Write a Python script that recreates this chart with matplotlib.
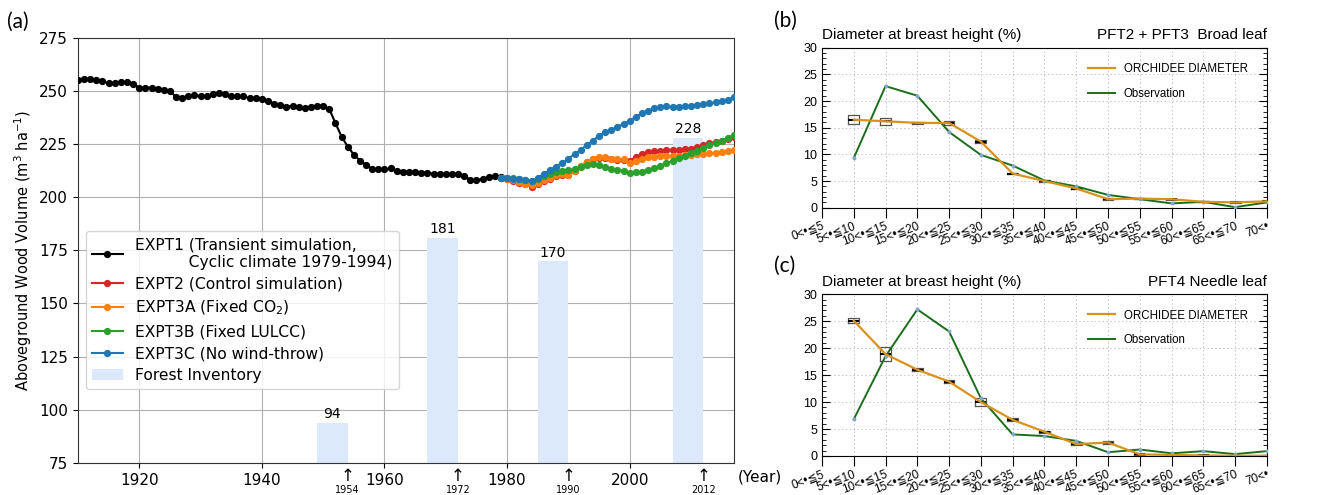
import numpy as np
import matplotlib
matplotlib.use('Agg')
import matplotlib.pyplot as plt
from matplotlib.lines import Line2D
from matplotlib.ticker import MultipleLocator
from matplotlib.transforms import ScaledTranslation

# ---- (a) aboveground wood volume ----
years_expt1 = list(range(1910, 1980))
expt1 = [255.0, 255.5, 255.5, 255.0, 254.5, 253.5, 253.5, 254.0, 254.0, 253.0,
         251.5, 251.5, 251.5, 251.0, 250.5, 250.0, 247.0, 246.5, 247.5, 248.0,
         247.5, 247.5, 248.5, 249.0, 248.5, 247.5, 247.5, 247.5, 246.5, 246.5,
         246.0, 245.0, 244.0, 243.5, 242.5, 243.0, 242.5, 242.0, 242.5, 243.0,
         243.0, 241.5, 234.8, 228.5, 223.8, 220.0, 217.2, 215.2, 213.3, 213.0,
         213.0, 213.5, 212.5, 212.0, 212.0, 212.0, 211.5, 211.5, 211.0, 211.0,
         211.0, 211.0, 211.0, 210.0, 208.0, 208.0, 208.5, 209.5, 210.0, 209.3]
years_sim = list(range(1979, 2018))
expt2 = [209.2, 208.4, 207.8, 206.8, 206.0, 205.0, 206.3, 207.7, 208.7, 209.9,
         210.6, 210.3, 212.2, 214.5, 216.4, 217.7, 218.5, 218.5, 217.8, 217.6,
         217.6, 217.0, 219.0, 220.3, 221.1, 221.6, 221.9, 222.2, 222.2, 222.2,
         222.7, 222.8, 223.7, 224.5, 225.5, 225.8, 226.6, 227.3, 228.4]
expt3a = [209.2, 208.6, 208.1, 207.0, 206.3, 205.5, 206.7, 208.1, 209.0, 210.2,
          210.9, 210.5, 212.5, 214.8, 216.7, 218.0, 218.8, 218.8, 218.0, 217.7,
          217.7, 215.9, 217.2, 218.0, 218.8, 219.0, 219.5, 219.5, 219.5, 219.5,
          219.6, 219.8, 220.3, 220.3, 220.6, 220.8, 221.1, 221.6, 222.2]
expt3b = [209.2, 209.0, 209.2, 208.7, 208.2, 207.8, 208.5, 209.8, 210.9, 211.7,
          212.5, 212.8, 213.3, 214.4, 215.3, 215.6, 215.3, 214.4, 213.3, 212.8,
          212.5, 211.3, 212.0, 212.0, 212.8, 213.7, 214.8, 215.9, 217.2, 218.3,
          219.5, 220.6, 221.9, 223.1, 224.5, 225.5, 226.6, 227.7, 229.4]
expt3c = [209.2, 208.9, 208.6, 208.3, 208.0, 207.6, 209.1, 211.0, 212.8, 214.4,
          216.2, 218.0, 220.3, 222.2, 224.5, 226.6, 228.9, 230.5, 231.6, 233.1,
          234.4, 235.9, 237.8, 239.4, 240.6, 241.7, 242.5, 242.7, 242.6, 242.6,
          242.7, 243.0, 243.3, 243.8, 244.2, 244.5, 245.0, 245.6, 247.2]
inv_years = [1954, 1972, 1990, 2012]
inv_volume = [94, 181, 170, 228]

# ---- (b), (c) DBH distribution ----
dbh_classes = ['0<•≦5', '5<•≦10', '10<•≦15', '15<•≦20', '20<•≦25', '25<•≦30',
               '30<•≦35', '35<•≦40', '40<•≦45', '45<•≦50', '50<•≦55', '55<•≦60',
               '60<•≦65', '65<•≦70', '70<•']
nan = np.nan
broad_orch = [nan, 16.5, 16.2, 15.9, 15.9, 12.4, 6.4, 5.0, 3.6, 1.6, 1.7, 1.6, 1.1, 1.0, 1.2]
broad_spread = [nan, 1.6, 1.2, 0.5, 0.8, 0.7, 0.3, 0.3, 0.3, 0.3, 0.3, 0.2, 0.2, 0.2, 0.2]
broad_obs = [nan, 9.3, 22.8, 21.0, 14.2, 9.9, 7.9, 5.1, 4.0, 2.4, 1.6, 0.8, 1.1, 0.1, 1.0]
needle_orch = [nan, 25.1, 18.9, 16.0, 13.8, 10.0, 6.7, 4.5, 2.2, 2.5, 0.3, 0.2, 0.1, 0.05, 0.05]
needle_spread = [nan, 0.9, 2.6, 0.6, 0.5, 1.4, 0.6, 0.4, 0.4, 0.4, 0.3, 0.2, 0.2, 0.2, 0.2]
needle_obs = [nan, 6.8, 18.5, 27.2, 23.1, 10.7, 4.0, 3.7, 2.8, 0.7, 1.2, 0.5, 0.9, 0.35, 0.9]

fig = plt.figure(figsize=(13.3, 4.95), dpi=100)

# ---------------- panel (a) ----------------
ax = fig.add_axes([0.0586, 0.0646, 0.4932, 0.8594])
bars = ax.bar(inv_years, inv_volume, width=-5, align='edge', color='#dbe9fa',
              label='Forest Inventory', zorder=1)
ax.bar_label(bars, padding=1, fontsize=10)
kw = dict(marker='o', markersize=4.2, linewidth=1.5, zorder=3)
ax.plot(years_expt1, expt1, color='black',
        label='EXPT1 (Transient simulation,\n           Cyclic climate 1979-1994)', **kw)
ax.plot(years_sim, expt2, color='tab:red', label='EXPT2 (Control simulation)', **kw)
ax.plot(years_sim, expt3a, color='tab:orange', label='EXPT3A (Fixed CO$_2$)', **kw)
ax.plot(years_sim, expt3b, color='tab:green', label='EXPT3B (Fixed LULCC)', **kw)
ax.plot(years_sim, expt3c, color='tab:blue', label='EXPT3C (No wind-throw)', **kw)

ax.set_xlim(1910, 2017)
ax.set_ylim(75, 275)
ax.set_xticks([1920, 1940, 1960, 1980, 2000])
ax.yaxis.set_major_locator(MultipleLocator(25))
ax.tick_params(labelsize=11)
ax.grid(True, color='#b0b0b0', linewidth=0.8)
ax.set_axisbelow(True)
ax.set_ylabel('Aboveground Wood Volume (m$^3$ ha$^{-1}$)', fontsize=10.5)
for s in ax.spines.values():
    s.set_color('#333333')

ax.legend(loc='lower left', bbox_to_anchor=(0.0, 0.155), fontsize=11.2,
          framealpha=0.8, handlelength=2.0, labelspacing=0.45)

trans = ax.get_xaxis_transform()
for yr in inv_years:
    ax.text(yr, -0.03, '↑', transform=trans, ha='center', va='center',
            fontsize=12, clip_on=False)
    ax.text(yr, -0.063, str(yr), transform=trans, ha='center', va='center',
            fontsize=7, clip_on=False)
ax.text(1.006, -0.033, '(Year)', transform=ax.transAxes, ha='left', va='center',
        fontsize=11)

# ---------------- panels (b), (c) ----------------
sans = ['Liberation Sans', 'DejaVu Sans']
orch_color = '#d8921b'
obs_color = '#1b6e1b'


def dbh_panel(ax, orch, spread, obs, right_title):
    x = np.arange(len(dbh_classes))
    stats = []
    pos = []
    for xi, v, s in zip(x, orch, spread):
        if np.isnan(v):
            continue
        stats.append(dict(med=v, q1=v - s / 2, q3=v + s / 2,
                          whislo=v - s / 2, whishi=v + s / 2))
        pos.append(xi)
    ax.bxp(stats, positions=pos, widths=0.34, showfliers=False, showcaps=False,
           boxprops=dict(color='#555555', linewidth=0.9),
           whiskerprops=dict(color='#555555', linewidth=0.9),
           medianprops=dict(color='black', linewidth=1.5), manage_ticks=False,
           zorder=2)
    ax.plot(x, obs, color=obs_color, linewidth=1.4, marker='o', markersize=1.8,
            markerfacecolor='#7fa7d6', markeredgecolor='#7fa7d6', zorder=3)
    ax.plot(x, orch, color=orch_color, linewidth=1.6, zorder=4)

    ax.set_xlim(0, 14)
    ax.set_ylim(0, 30)
    ax.set_xticks(x)
    ax.set_xticklabels(dbh_classes, rotation=20, ha='right', va='top',
                       rotation_mode='anchor', fontsize=8.5, family=sans)
    for lab in ax.get_xticklabels():
        lab.set_transform(lab.get_transform() +
                          ScaledTranslation(8 / 72, 0, fig.dpi_scale_trans))
    ax.yaxis.set_major_locator(MultipleLocator(5))
    ax.yaxis.set_minor_locator(MultipleLocator(1))
    ax.tick_params(axis='y', which='both', direction='in', left=True, right=True)
    ax.tick_params(axis='y', which='major', length=6, labelsize=9)
    ax.tick_params(axis='y', which='minor', length=3)
    ax.tick_params(axis='x', direction='out', length=7, pad=2)
    for lab in ax.get_yticklabels():
        lab.set_family(sans)
    ax.grid(True, which='major', linestyle=(0, (1.5, 2.5)), color='#c4c4c4',
            linewidth=0.7)
    ax.set_axisbelow(True)
    ax.set_title('Diameter at breast height (%)', loc='left', fontsize=11,
                 family=sans, pad=6)
    ax.set_title(right_title, loc='right', fontsize=11, family=sans, pad=6)
    handles = [Line2D([], [], color=orch_color, linewidth=1.6),
               Line2D([], [], color=obs_color, linewidth=1.4)]
    ax.legend(handles, ['ORCHIDEE DIAMETER', 'Observation'], loc='upper left',
              bbox_to_anchor=(0.575, 0.97), frameon=False,
              prop=dict(family=sans, size=8.3), handlelength=2.3,
              labelspacing=1.1)


axb = fig.add_axes([0.618, 0.5804, 0.3346, 0.3232])
dbh_panel(axb, broad_orch, broad_spread, broad_obs, 'PFT2 + PFT3  Broad leaf')
axc = fig.add_axes([0.618, 0.0788, 0.3346, 0.3267])
dbh_panel(axc, needle_orch, needle_spread, needle_obs, 'PFT4 Needle leaf')

lab_font = ['Lato', 'DejaVu Sans']
fig.text(0.005, 0.955, '(a)', fontsize=15, family=lab_font, va='center')
fig.text(0.582, 0.958, '(b)', fontsize=15, family=lab_font, va='center')
fig.text(0.582, 0.463, '(c)', fontsize=15, family=lab_font, va='center')

fig.savefig('out.png', dpi=100)
